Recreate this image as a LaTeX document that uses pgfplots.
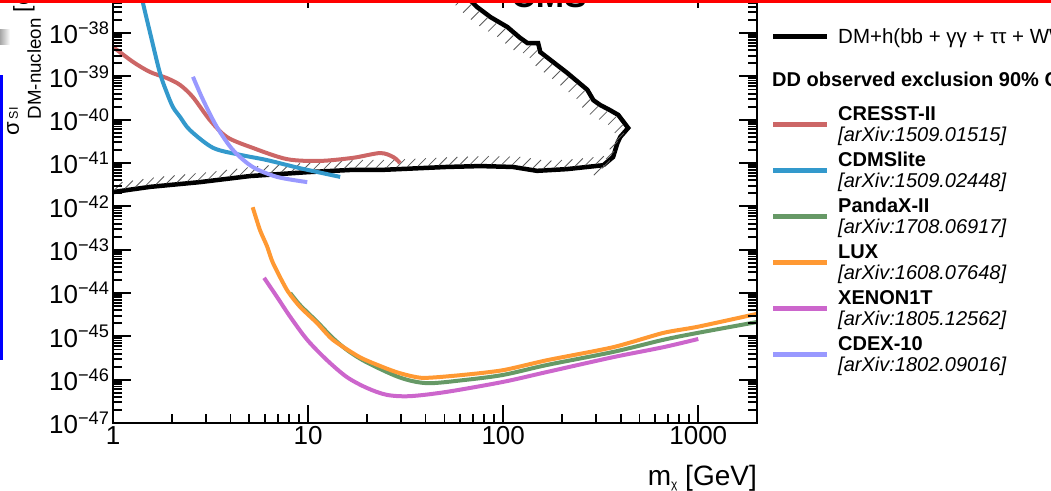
\documentclass[border=0pt]{standalone}
\usepackage{fontspec}
\setmainfont{Liberation Sans}
\usepackage{pgfplots}
\pgfplotsset{compat=1.18}
\usetikzlibrary{decorations.markings}
\definecolor{cresst}{RGB}{204,102,102}
\definecolor{cdms}{RGB}{51,153,204}
\definecolor{pandax}{RGB}{102,153,102}
\definecolor{lux}{RGB}{255,153,51}
\definecolor{xenon}{RGB}{204,102,204}
\definecolor{cdex}{RGB}{153,153,255}
\tikzset{
 hatchup/.style={postaction={decorate,decoration={markings,mark=between positions 0 and 1 step 10.5pt with {\pgftransformresetnontranslations\draw[line width=0.8pt,black!65] (1.5pt,2pt)--(9.5pt,10pt);}}}},
 hatchdown/.style={postaction={decorate,decoration={markings,mark=between positions 0 and 1 step 10.5pt with {\pgftransformresetnontranslations\draw[line width=0.8pt,black!65] (-1.5pt,-2pt)--(-9.5pt,-10pt);}}}},
}
\begin{document}
\begin{tikzpicture}
\useasboundingbox (-113pt,-67pt) rectangle (938pt,423pt);
\begin{axis}[at={(0pt,0pt)}, anchor=south west, scale only axis,
  width=644pt, height=433.3pt,
  xmode=log, ymode=log, log basis x=10, log basis y=10,
  xmin=1, xmax=2000, ymin=1e-47, ymax=1e-37,
  xtick={1,10,100,1000}, xticklabels={1,10,100,1000},
  minor xtick={2,3,4,5,6,7,8,9,20,30,40,50,60,70,80,90,200,300,400,500,600,700,800,900,2000},
  ytick={1e-47,1e-46,1e-45,1e-44,1e-43,1e-42,1e-41,1e-40,1e-39,1e-38},
  minor ytick={2e-47,3e-47,4e-47,5e-47,6e-47,7e-47,8e-47,9e-47,
   2e-46,3e-46,4e-46,5e-46,6e-46,7e-46,8e-46,9e-46,
   2e-45,3e-45,4e-45,5e-45,6e-45,7e-45,8e-45,9e-45,
   2e-44,3e-44,4e-44,5e-44,6e-44,7e-44,8e-44,9e-44,
   2e-43,3e-43,4e-43,5e-43,6e-43,7e-43,8e-43,9e-43,
   2e-42,3e-42,4e-42,5e-42,6e-42,7e-42,8e-42,9e-42,
   2e-41,3e-41,4e-41,5e-41,6e-41,7e-41,8e-41,9e-41,
   2e-40,3e-40,4e-40,5e-40,6e-40,7e-40,8e-40,9e-40,
   2e-39,3e-39,4e-39,5e-39,6e-39,7e-39,8e-39,9e-39,
   2e-38,3e-38,4e-38,5e-38,6e-38,7e-38,8e-38,9e-38},
  yticklabels={10\textsuperscript{−47},10\textsuperscript{−46},10\textsuperscript{−45},10\textsuperscript{−44},10\textsuperscript{−43},10\textsuperscript{−42},10\textsuperscript{−41},10\textsuperscript{−40},10\textsuperscript{−39},10\textsuperscript{−38}},
  tick align=inside,
  axis line style={line width=2.5pt},
  every tick/.style={black, line width=1.8pt},
  major tick length=18pt, minor tick length=9pt,
  tick label style={font=\fontsize{26}{26}\selectfont},
  axis on top,
]
% DM+h exclusion contour (lower part)
\addplot[black, line width=4.5pt, hatchup] coordinates {
(1,2.14e-42) (1.55,2.82e-42) (2.79,3.63e-42) (5.04,5.01e-42) (10,6.17e-42)
(16.4,6.92e-42) (23.4,6.92e-42) (51.5,8.13e-42) (76.4,8.51e-42) (112,8.13e-42)
(149,6.61e-42) (212,7.24e-42) (326,8.91e-42)};
% DM+h exclusion contour (tip and upper part)
\addplot[black, line width=4.5pt, hatchdown] coordinates {
(326,8.91e-42) (366,1.38e-41) (385,2.88e-41) (398,3.98e-41) (437,6.46e-41)
(389,1.29e-40) (353,1.66e-40) (314,2.19e-40) (290,2.82e-40) (270,4.90e-40)
(213,1.20e-39) (155,3.63e-39) (151,5.89e-39) (133,5.89e-39) (122,7.76e-39)
(105,1.38e-38) (86,2.34e-38) (73.5,3.98e-38) (63.5,7.59e-38) (56.8,1.29e-37)};
% CRESST-II
\addplot[cresst, line width=4pt, smooth, tension=0.5] coordinates {
(1,4.79e-39) (1.27,2.14e-39) (1.55,1.26e-39) (1.89,9.12e-40) (2.21,6.31e-40)
(2.57,3.31e-40) (3.14,9.77e-41) (3.84,3.98e-41) (5.2,2.24e-41) (7.8,1.23e-41)
(11.5,1.12e-41) (17.0,1.32e-41) (23.4,1.70e-41) (27.3,1.38e-41) (29.6,1.0e-41)};
% CDMSlite
\addplot[cdms, line width=4pt, smooth, tension=0.5] coordinates {
(1.38,1e-37) (1.425,4.90e-38) (1.55,1e-38) (1.74,1.20e-39) (1.89,4.17e-40)
(2.03,1.95e-40) (2.21,1.15e-40) (2.48,5.75e-41) (3.26,2.24e-41) (4.48,1.55e-41)
(6.16,1.17e-41) (9.1,7.59e-42) (14.6,4.79e-42)};
% CDEX-10
\addplot[cdex, line width=4pt, smooth, tension=0.5] coordinates {
(2.57,9.77e-40) (2.9,2.82e-40) (3.41,6.76e-41) (4.12,2.0e-41) (5.2,8.13e-42)
(6.93,4.79e-42) (9.9,3.63e-42)};
% PandaX-II
\addplot[pandax, line width=4pt, smooth, tension=0.5] coordinates {
(8.1,1e-44) (9.1,5.25e-45) (11.1,2.19e-45) (13.4,9.12e-46) (16,4.68e-46)
(20,2.51e-46) (29.6,1.12e-46) (40.7,8.32e-47) (62.4,9.77e-47) (100,1.29e-46)
(168,2.19e-46) (366,4.37e-46) (661,8.32e-46) (990,1.20e-45) (2000,2.14e-45)};
% LUX
\addplot[lux, line width=4pt, smooth, tension=0.4] coordinates {
(5.2,9.55e-43) (5.67,2.82e-43) (6.16,1.20e-43) (6.6,5.0e-44) (7.8,1.17e-44)
(9.1,4.79e-45) (11.1,2.04e-45) (13.4,8.32e-46) (18.4,3.31e-46) (24.2,1.95e-46)
(29.6,1.41e-46) (38.8,1.10e-46) (62.4,1.29e-46) (100,1.66e-46) (168,2.82e-46)
(366,5.62e-46) (661,1.20e-45) (990,1.66e-45) (2000,3.31e-45)};
% XENON1T
\addplot[xenon, line width=4pt, smooth, tension=0.5] coordinates {
(5.95,2.24e-44) (6.93,8.13e-45) (8.1,2.82e-45) (9.9,8.32e-46) (12.5,2.82e-46)
(15.8,1.15e-46) (20.0,6.46e-47) (25.3,4.47e-47) (33.3,4.17e-47) (51.5,5.25e-47)
(100,8.91e-47) (168,1.51e-46) (366,3.31e-46) (661,5.62e-46) (1000,8.71e-46)};
\end{axis}
% axis titles
\node[rotate=90, anchor=base west, inner sep=0pt] at (-83pt,287pt)
 {{\fontsize{22}{22}\selectfont\raisebox{11pt}{σ}}\kern3pt\rlap{\raisebox{12pt}{\fontsize{12.5}{12.5}\selectfont SI}}\raisebox{-11pt}{\fontsize{18.7}{18.7}\selectfont DM-nucleon}{\fontsize{23}{23}\selectfont\ [cm\textsuperscript{2}]}};
\node[anchor=base east, inner sep=0pt, font=\fontsize{28}{28}\selectfont] at (644pt,-62pt)
 {m\raisebox{-3pt}{\fontsize{12}{12}\selectfont χ} [GeV]};
\node[anchor=base west, inner sep=0pt, font=\bfseries\fontsize{34}{34}\selectfont] at (398pt,415pt) {CMS};
% legend
\draw[black, line width=5pt] (660pt,386pt) -- (714pt,386pt);
\node[anchor=base west, inner sep=0pt, font=\fontsize{20.5}{20.5}\selectfont] at (725pt,379pt) {DM+h(bb + γγ + ττ + WW)};
\node[anchor=base west, inner sep=0pt, font=\bfseries\fontsize{20}{20}\selectfont] at (659pt,336pt) {DD observed exclusion 90\% CL};
\foreach \y/\c/\n/\a in {298/cresst/CRESST-II/1509.01515, 252.2/cdms/CDMSlite/1509.02448, 206.4/pandax/PandaX-II/1708.06917, 160.6/lux/LUX/1608.07648, 114.8/xenon/XENON1T/1805.12562, 69/cdex/CDEX-10/1802.09016}{
 \draw[\c, line width=5pt] (660pt,\y pt) -- (714pt,\y pt);
 \node[anchor=base west, inner sep=0pt, font=\bfseries\fontsize{20}{20}\selectfont] at (725pt,\y pt+4pt) {\n};
 \node[anchor=base west, inner sep=0pt, font=\itshape\fontsize{20}{20}\selectfont] at (725pt,\y pt-17pt) {[arXiv:\a]};
}
% screenshot frame remnants
\shade[left color=gray!70, right color=white] (-113pt,378pt) rectangle (-103pt,393pt);
\fill[blue] (-113pt,63pt) rectangle (-110pt,348pt);
\fill[red] (-113pt,419.5pt) rectangle (938pt,423pt);
\end{tikzpicture}
\end{document}
